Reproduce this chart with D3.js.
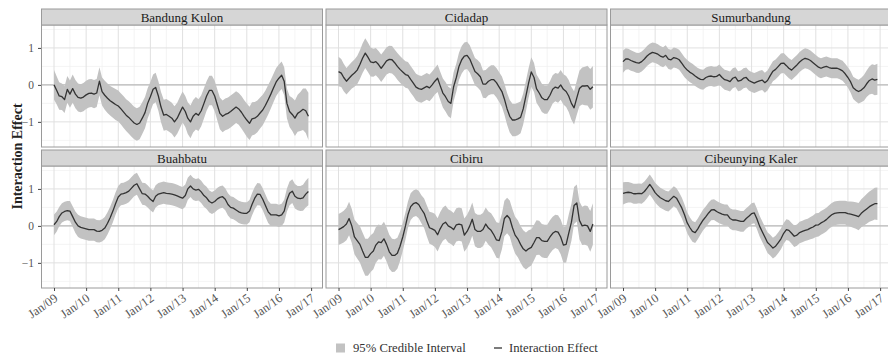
<!DOCTYPE html>
<html><head><meta charset="utf-8">
<script src="https://cdn.jsdelivr.net/npm/d3@7"></script>
<style>
body{margin:0;background:#fff}
svg{display:block}
</style>
</head><body>
<svg id="chart" width="888" height="356"></svg>
<script>
// ---------- DATA ----------
const panelNames = ["Bandung Kulon","Cidadap","Sumurbandung","Buahbatu","Cibiru","Cibeunying Kaler"];
const xTickLabels = ["Jan/09","Jan/10","Jan/11","Jan/12","Jan/13","Jan/14","Jan/15","Jan/16","Jan/17"];
const yTickValues = [-1,0,1];
const yTickLabels = ["\u22121","0","1"];
const legendLabels = ["95% Credible Interval","Interaction Effect"];

// monthly effect estimates, Jan 2009 .. Dec 2016
const effBandungKulon = [0.0,-0.15,-0.3,-0.32,-0.4,-0.12,-0.25,-0.1,-0.25,-0.34,-0.36,-0.33,
 -0.27,-0.23,-0.22,-0.25,-0.22,0.1,-0.18,-0.28,-0.36,-0.43,-0.48,-0.53,
 -0.57,-0.65,-0.73,-0.82,-0.88,-0.96,-1.03,-1.07,-1.03,-0.9,-0.75,-0.5,
 -0.32,-0.12,-0.07,-0.3,-0.6,-0.82,-0.8,-0.85,-0.9,-1.0,-0.9,-0.75,
 -0.6,-0.72,-0.9,-1.0,-0.85,-0.77,-0.82,-0.7,-0.5,-0.3,-0.15,-0.15,
 -0.3,-0.55,-0.77,-0.85,-0.8,-0.77,-0.72,-0.66,-0.6,-0.65,-0.74,-0.85,
 -0.95,-1.04,-0.92,-0.9,-0.85,-0.76,-0.68,-0.55,-0.4,-0.25,-0.08,0.08,
 0.18,0.26,0.1,-0.5,-0.72,-0.8,-0.9,-0.77,-0.72,-0.66,-0.7,-0.85];
const effCidadap = [0.36,0.32,0.2,0.1,0.18,0.26,0.32,0.4,0.55,0.72,0.86,0.75,
 0.62,0.6,0.63,0.55,0.45,0.55,0.65,0.69,0.68,0.6,0.5,0.42,
 0.35,0.28,0.26,0.15,0.05,-0.06,-0.1,-0.12,-0.08,-0.04,-0.08,0.0,
 0.1,0.18,-0.02,-0.22,-0.32,-0.45,-0.5,-0.05,0.2,0.5,0.68,0.78,
 0.8,0.7,0.54,0.36,0.3,0.22,0.02,0.02,0.1,0.14,0.14,0.06,
 -0.06,-0.18,-0.38,-0.65,-0.85,-0.95,-0.95,-0.92,-0.88,-0.65,-0.3,0.05,
 0.35,0.2,-0.1,-0.22,-0.35,-0.4,-0.4,-0.28,-0.12,-0.06,-0.09,0.0,
 -0.12,-0.18,-0.3,-0.5,-0.62,-0.35,-0.1,-0.03,-0.03,-0.02,-0.12,-0.05];
const effSumurbandung = [0.63,0.7,0.7,0.66,0.63,0.6,0.59,0.63,0.7,0.78,0.84,0.88,
 0.86,0.83,0.78,0.75,0.8,0.7,0.68,0.74,0.72,0.68,0.58,0.48,
 0.4,0.34,0.3,0.24,0.19,0.15,0.14,0.2,0.23,0.24,0.22,0.23,
 0.28,0.2,0.14,0.12,0.09,0.18,0.21,0.1,0.12,0.18,0.2,0.12,
 0.08,0.05,0.08,0.11,0.13,0.06,0.12,0.25,0.37,0.42,0.5,0.58,
 0.59,0.52,0.45,0.4,0.47,0.54,0.62,0.68,0.72,0.7,0.66,0.6,
 0.54,0.48,0.45,0.48,0.5,0.47,0.45,0.45,0.45,0.42,0.38,0.3,
 0.2,0.08,-0.08,-0.14,-0.18,-0.14,-0.08,0.03,0.12,0.16,0.13,0.15];
const effBuahbatu = [0.03,0.12,0.25,0.35,0.39,0.41,0.4,0.25,0.1,0.0,-0.04,-0.06,
 -0.08,-0.1,-0.1,-0.1,-0.14,-0.15,-0.12,-0.06,0.07,0.22,0.4,0.6,
 0.78,0.86,0.87,0.9,0.94,1.02,1.1,1.14,1.0,0.87,0.86,0.8,
 0.72,0.66,0.8,0.86,0.88,0.9,0.88,0.87,0.86,0.84,0.81,0.78,
 0.75,0.82,1.0,1.08,1.0,0.97,0.99,0.92,0.82,0.76,0.66,0.62,
 0.66,0.73,0.77,0.79,0.72,0.58,0.5,0.48,0.43,0.38,0.35,0.34,
 0.34,0.4,0.58,0.75,0.86,0.85,0.72,0.55,0.38,0.3,0.3,0.3,
 0.27,0.3,0.4,0.7,0.88,0.94,0.8,0.75,0.74,0.76,0.86,0.93];
const effCibiru = [-0.1,-0.06,-0.02,0.05,0.2,0.0,-0.3,-0.4,-0.5,-0.68,-0.85,-0.85,
 -0.75,-0.68,-0.52,-0.43,-0.45,-0.35,-0.5,-0.7,-0.8,-0.8,-0.74,-0.55,
 -0.3,0.0,0.3,0.52,0.6,0.63,0.58,0.45,0.34,0.14,-0.05,-0.08,
 -0.12,-0.24,-0.08,0.05,0.1,0.0,-0.04,-0.1,0.03,0.05,0.03,-0.25,
 -0.15,0.0,0.18,-0.1,-0.15,-0.15,-0.1,0.05,-0.06,-0.12,-0.24,-0.38,
 -0.4,-0.15,0.2,0.28,0.2,-0.05,-0.25,-0.35,-0.5,-0.62,-0.68,-0.62,
 -0.58,-0.45,-0.32,-0.32,-0.4,-0.42,-0.42,-0.3,-0.2,-0.15,-0.17,-0.3,
 -0.52,-0.5,-0.2,0.1,0.55,0.62,0.15,0.0,0.02,0.0,-0.15,0.05];
const effCibeunyingKaler = [0.88,0.9,0.91,0.9,0.87,0.87,0.88,0.87,0.93,1.02,1.12,1.02,
 0.9,0.82,0.76,0.72,0.68,0.66,0.73,0.8,0.75,0.62,0.48,0.3,
 0.08,-0.05,-0.15,-0.18,-0.08,0.05,0.16,0.25,0.35,0.43,0.44,0.39,
 0.35,0.32,0.3,0.3,0.2,0.16,0.16,0.14,0.12,0.12,0.2,0.26,
 0.33,0.35,0.2,0.0,-0.15,-0.3,-0.45,-0.52,-0.6,-0.55,-0.45,-0.35,
 -0.2,-0.1,-0.12,-0.2,-0.28,-0.25,-0.18,-0.15,-0.12,-0.1,-0.06,-0.03,
 0.02,0.03,0.08,0.12,0.17,0.24,0.3,0.34,0.35,0.36,0.36,0.36,
 0.33,0.32,0.3,0.28,0.25,0.34,0.4,0.46,0.52,0.56,0.6,0.6];

// half-width of the 95% credible interval, monthly
const ciBandungKulon = [0.4,0.38,0.37,0.36,0.36,0.36,0.37,0.38,0.38,0.38,0.38,0.38,
 0.38,0.38,0.38,0.38,0.38,0.38,0.38,0.39,0.4,0.4,0.41,0.42,
 0.42,0.42,0.43,0.43,0.44,0.44,0.44,0.44,0.44,0.43,0.42,0.41,
 0.4,0.4,0.4,0.4,0.41,0.42,0.42,0.42,0.42,0.42,0.42,0.42,
 0.42,0.42,0.43,0.44,0.44,0.44,0.43,0.42,0.41,0.4,0.4,0.4,
 0.41,0.42,0.43,0.43,0.43,0.43,0.43,0.43,0.43,0.43,0.44,0.44,
 0.45,0.45,0.45,0.44,0.43,0.42,0.41,0.4,0.4,0.39,0.38,0.38,
 0.37,0.37,0.38,0.4,0.42,0.45,0.48,0.5,0.53,0.56,0.6,0.64];
const ciCidadap = [0.4,0.38,0.37,0.36,0.36,0.36,0.37,0.38,0.39,0.4,0.4,0.4,
 0.39,0.38,0.37,0.37,0.37,0.37,0.37,0.37,0.37,0.36,0.36,0.36,
 0.36,0.36,0.36,0.36,0.36,0.36,0.36,0.36,0.36,0.36,0.36,0.36,
 0.36,0.37,0.38,0.39,0.4,0.4,0.4,0.39,0.38,0.37,0.37,0.37,
 0.37,0.37,0.37,0.37,0.37,0.37,0.37,0.38,0.38,0.39,0.39,0.4,
 0.4,0.41,0.42,0.43,0.44,0.44,0.44,0.44,0.43,0.42,0.41,0.4,
 0.4,0.39,0.38,0.38,0.38,0.38,0.38,0.38,0.38,0.38,0.39,0.4,
 0.41,0.42,0.43,0.44,0.45,0.46,0.48,0.5,0.52,0.54,0.55,0.56];
const ciSumurbandung = [0.3,0.29,0.28,0.28,0.27,0.27,0.27,0.27,0.27,0.27,0.27,0.27,
 0.27,0.27,0.27,0.27,0.27,0.27,0.27,0.27,0.27,0.27,0.27,0.27,
 0.27,0.27,0.27,0.27,0.27,0.27,0.27,0.27,0.27,0.27,0.27,0.27,
 0.27,0.27,0.27,0.27,0.27,0.27,0.27,0.27,0.27,0.27,0.27,0.27,
 0.27,0.27,0.27,0.27,0.27,0.27,0.27,0.27,0.27,0.27,0.27,0.27,
 0.27,0.27,0.27,0.27,0.27,0.27,0.27,0.27,0.27,0.27,0.27,0.27,
 0.27,0.27,0.27,0.27,0.27,0.27,0.27,0.27,0.27,0.27,0.27,0.27,
 0.28,0.29,0.3,0.31,0.32,0.33,0.35,0.36,0.38,0.4,0.41,0.42];
const ciBuahbatu = [0.28,0.27,0.26,0.26,0.26,0.26,0.27,0.28,0.29,0.3,0.3,0.3,
 0.3,0.3,0.3,0.3,0.3,0.3,0.3,0.3,0.3,0.3,0.3,0.3,
 0.3,0.3,0.3,0.3,0.3,0.3,0.3,0.3,0.3,0.3,0.3,0.3,
 0.3,0.3,0.3,0.3,0.3,0.3,0.3,0.3,0.3,0.3,0.3,0.3,
 0.3,0.3,0.3,0.3,0.3,0.3,0.3,0.3,0.3,0.3,0.3,0.3,
 0.3,0.3,0.3,0.3,0.3,0.3,0.3,0.3,0.3,0.3,0.3,0.3,
 0.3,0.3,0.3,0.3,0.3,0.3,0.3,0.3,0.3,0.3,0.3,0.3,
 0.3,0.3,0.31,0.31,0.32,0.32,0.33,0.33,0.34,0.35,0.36,0.37];
const ciCibiru = [0.42,0.42,0.43,0.44,0.45,0.46,0.47,0.48,0.49,0.5,0.5,0.5,
 0.5,0.49,0.48,0.47,0.46,0.46,0.46,0.46,0.45,0.44,0.42,0.4,
 0.38,0.37,0.36,0.36,0.36,0.36,0.37,0.38,0.4,0.42,0.43,0.44,
 0.45,0.45,0.45,0.45,0.45,0.45,0.45,0.45,0.45,0.45,0.45,0.45,
 0.45,0.45,0.45,0.45,0.45,0.45,0.45,0.45,0.45,0.46,0.47,0.48,
 0.48,0.48,0.48,0.48,0.49,0.5,0.5,0.5,0.5,0.5,0.5,0.5,
 0.49,0.48,0.47,0.46,0.45,0.45,0.45,0.45,0.45,0.45,0.46,0.47,
 0.48,0.49,0.5,0.5,0.5,0.5,0.51,0.52,0.53,0.54,0.55,0.56];
const ciCibeunyingKaler = [0.3,0.29,0.28,0.27,0.27,0.27,0.27,0.27,0.27,0.27,0.27,0.27,
 0.27,0.27,0.27,0.27,0.27,0.27,0.27,0.27,0.27,0.28,0.28,0.28,
 0.28,0.28,0.28,0.28,0.28,0.28,0.28,0.28,0.28,0.28,0.28,0.28,
 0.28,0.28,0.28,0.28,0.28,0.28,0.28,0.28,0.28,0.28,0.28,0.28,
 0.28,0.28,0.28,0.28,0.28,0.28,0.28,0.28,0.28,0.28,0.28,0.28,
 0.28,0.28,0.28,0.28,0.29,0.29,0.29,0.29,0.29,0.29,0.3,0.31,
 0.32,0.32,0.32,0.32,0.32,0.32,0.32,0.32,0.32,0.32,0.32,0.32,
 0.33,0.34,0.35,0.36,0.37,0.38,0.39,0.4,0.41,0.42,0.43,0.44];

const effects = [effBandungKulon,effCidadap,effSumurbandung,effBuahbatu,effCibiru,effCibeunyingKaler];
const cis = [ciBandungKulon,ciCidadap,ciSumurbandung,ciBuahbatu,ciCibiru,ciCibeunyingKaler];

// ---------- LAYOUT ----------
const FONT = "'Liberation Serif', 'Times New Roman', serif";
const svg = d3.select("#chart").attr("font-family", FONT);
const panelW = 282, panelH = 122, stripH = 16;
const colX = [41, 325.5, 610];
const rowY = [25, 166];

const months = d3.utcMonth.range(new Date(Date.UTC(2009,0,1)), new Date(Date.UTC(2017,0,1)));
const x = d3.scaleUtc().domain([new Date(Date.UTC(2008,7,6)), new Date(Date.UTC(2017,4,16))]).range([0, panelW]);
const y = d3.scaleLinear().domain([-1.68, 1.62]).range([panelH, 0]);

const majorX = d3.utcYear.range(new Date(Date.UTC(2009,0,1)), new Date(Date.UTC(2017,0,2)));
const minorX = majorX.slice(0,-1).map(d => new Date(Date.UTC(d.getUTCFullYear(),6,1)));
minorX.unshift(new Date(Date.UTC(2008,6,1)));
minorX.push(new Date(Date.UTC(2017,6,1)));
const minorY = [-1.5,-0.5,0.5,1.5];

const fillCI = "#c2c2c2";
const lineCol = "#333333";

panelNames.forEach((name, i) => {
  const col = i % 3, row = Math.floor(i / 3);
  const g = svg.append("g").attr("transform", `translate(${colX[col]},${rowY[row]})`);
  const clipId = "clip" + i;
  g.append("clipPath").attr("id", clipId).append("rect").attr("width", panelW).attr("height", panelH);
  const inner = g.append("g").attr("clip-path", `url(#${clipId})`);
  inner.append("rect").attr("width", panelW).attr("height", panelH).attr("fill", "#fff");
  // minor grid
  inner.selectAll(".mnx").data(minorX).join("line")
    .attr("x1", d => x(d)).attr("x2", d => x(d)).attr("y1", 0).attr("y2", panelH)
    .attr("stroke", "#efefef").attr("stroke-width", 0.7);
  inner.selectAll(".mny").data(minorY).join("line")
    .attr("x1", 0).attr("x2", panelW).attr("y1", d => y(d)).attr("y2", d => y(d))
    .attr("stroke", "#efefef").attr("stroke-width", 0.7);
  // major grid
  inner.selectAll(".mjx").data(majorX).join("line")
    .attr("x1", d => x(d)).attr("x2", d => x(d)).attr("y1", 0).attr("y2", panelH)
    .attr("stroke", "#e0e0e0").attr("stroke-width", 1);
  inner.selectAll(".mjy").data(yTickValues).join("line")
    .attr("x1", 0).attr("x2", panelW).attr("y1", d => y(d)).attr("y2", d => y(d))
    .attr("stroke", "#e0e0e0").attr("stroke-width", 1);
  // zero reference line
  inner.append("line").attr("x1", 0).attr("x2", panelW).attr("y1", y(0)).attr("y2", y(0))
    .attr("stroke", "#a8a8a8").attr("stroke-width", 0.9);

  const data = months.map((d, k) => ({d, v: effects[i][k], h: cis[i][k]}));
  inner.append("path").datum(data)
    .attr("d", d3.area().x(p => x(p.d)).y0(p => y(p.v - p.h)).y1(p => y(p.v + p.h)))
    .attr("fill", fillCI).attr("stroke", "none");
  inner.append("path").datum(data)
    .attr("d", d3.line().x(p => x(p.d)).y(p => y(p.v)))
    .attr("fill", "none").attr("stroke", lineCol).attr("stroke-width", 1.3).attr("stroke-linejoin", "round");

  // panel border
  g.append("rect").attr("x", 0.5).attr("y", 0).attr("width", panelW - 1).attr("height", panelH)
    .attr("fill", "none").attr("stroke", "#9a9a9a").attr("stroke-width", 1);
  // strip
  g.append("rect").attr("x", 0.5).attr("y", -stripH).attr("width", panelW - 1).attr("height", stripH)
    .attr("fill", "#d6d6d6").attr("stroke", "#9a9a9a").attr("stroke-width", 1);
  g.append("text").attr("x", panelW / 2).attr("y", -stripH / 2).attr("dy", "0.35em")
    .attr("font-family", FONT)
    .attr("text-anchor", "middle").attr("font-size", 13).attr("fill", "#1a1a1a").text(name);

  // y axis on left column
  if (col === 0) {
    const ya = d3.axisLeft(y).tickValues(yTickValues).tickSize(3).tickPadding(4)
      .tickFormat((d, k) => yTickLabels[k]);
    const ag = g.append("g").call(ya).attr("font-family", FONT);
    ag.select(".domain").remove();
    ag.selectAll(".tick line").attr("stroke", "#444");
    ag.selectAll(".tick text").attr("font-size", 11.5).attr("fill", "#555").attr("font-family", FONT);
  }
  // x axis on bottom row
  if (row === 1) {
    const xa = d3.axisBottom(x).tickValues(majorX).tickSize(3).tickFormat((d, k) => xTickLabels[k]);
    const ag = g.append("g").attr("transform", `translate(0,${panelH})`).call(xa).attr("font-family", FONT);
    ag.select(".domain").remove();
    ag.selectAll(".tick line").attr("stroke", "#444");
    ag.selectAll(".tick text").attr("font-size", 12.5).attr("fill", "#555").attr("font-family", FONT)
      .attr("text-anchor", "end").attr("y", 0).attr("dy", 0)
      .attr("transform", "translate(4,12) rotate(-35)");
  }
});

// y axis title
svg.append("text").attr("transform", `translate(17,${(rowY[0] + rowY[1] + panelH) / 2}) rotate(-90)`)
  .attr("font-family", FONT)
  .attr("text-anchor", "middle").attr("dy", "0.35em").attr("font-size", 14).attr("font-weight", "bold")
  .attr("fill", "#222").text("Interaction Effect");

// legend
const lg = svg.append("g").attr("transform", "translate(336,348)");
lg.append("rect").attr("x", 0).attr("y", -4.5).attr("width", 9).attr("height", 9).attr("fill", fillCI);
lg.append("text").attr("x", 17).attr("y", 0).attr("dy", "0.35em").attr("font-size", 12.7).attr("fill", "#333")
  .attr("font-family", FONT).text(legendLabels[0]);
lg.append("line").attr("x1", 158).attr("x2", 166).attr("y1", 0).attr("y2", 0)
  .attr("stroke", lineCol).attr("stroke-width", 1.3);
lg.append("text").attr("x", 173).attr("y", 0).attr("dy", "0.35em").attr("font-size", 12.7).attr("fill", "#333")
  .attr("font-family", FONT).text(legendLabels[1]);
</script>
</body></html>
